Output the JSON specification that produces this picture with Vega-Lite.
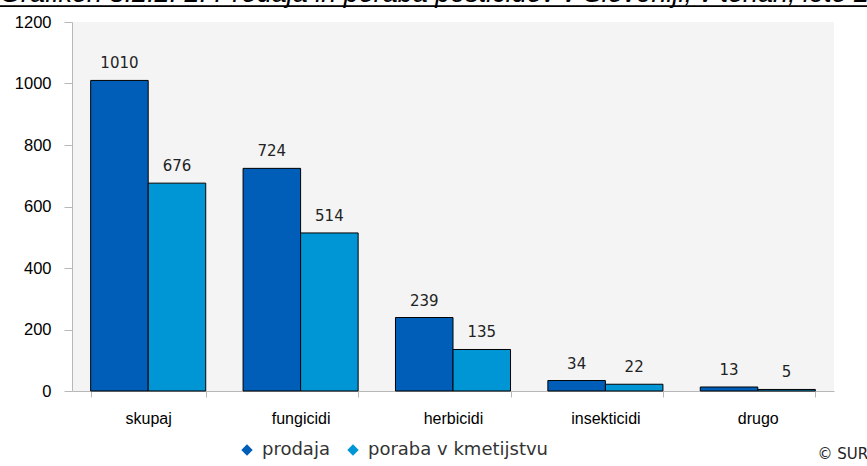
{
  "$schema": "https://vega.github.io/schema/vega-lite/v6.json",
  "autosize": {"type": "none"},
  "padding": {"left": 72, "top": 22, "right": 33, "bottom": 75},
  "width": 762,
  "height": 369,
  "background": "white",
  "title": {
    "text": "Grafikon 8.2.2: 2: Prodaja in poraba pesticidov v Sloveniji, v tonah, leto 2010",
    "subtitle": "____________________________________________________________________",
    "anchor": "start",
    "frame": "group",
    "dx": -72,
    "offset": -15,
    "limit": 3000,
    "baseline": "alphabetic",
    "font": "Liberation Sans",
    "fontSize": 27,
    "fontStyle": "italic",
    "fontWeight": "normal",
    "color": "black",
    "subtitleFont": "Liberation Sans",
    "subtitleFontSize": 26,
    "subtitleColor": "black",
    "subtitlePadding": -27
  },
  "data": {
    "values": [
      {"cat": "skupaj", "series": "prodaja", "value": 1010},
      {"cat": "skupaj", "series": "poraba v kmetijstvu", "value": 676},
      {"cat": "fungicidi", "series": "prodaja", "value": 724},
      {"cat": "fungicidi", "series": "poraba v kmetijstvu", "value": 514},
      {"cat": "herbicidi", "series": "prodaja", "value": 239},
      {"cat": "herbicidi", "series": "poraba v kmetijstvu", "value": 135},
      {"cat": "insekticidi", "series": "prodaja", "value": 34},
      {"cat": "insekticidi", "series": "poraba v kmetijstvu", "value": 22},
      {"cat": "drugo", "series": "prodaja", "value": 13},
      {"cat": "drugo", "series": "poraba v kmetijstvu", "value": 5}
    ]
  },
  "encoding": {
    "x": {
      "field": "cat",
      "type": "nominal",
      "sort": ["skupaj", "fungicidi", "herbicidi", "insekticidi", "drugo"],
      "scale": {"paddingInner": 0.245, "paddingOuter": 0.1225},
      "axis": {
        "title": "© SURS",
        "titleX": 745,
        "titleY": 67,
        "titleAlign": "left",
        "titleBaseline": "alphabetic",
        "titleFont": "DejaVu Sans",
        "titleFontSize": 15,
        "titleFontWeight": "normal",
        "titleColor": "#222",
        "labelAngle": 0,
        "labelFont": "Liberation Sans",
        "labelFontSize": 16,
        "labelColor": "black",
        "labelPadding": 13,
        "tickBand": "extent",
        "tickSize": 6,
        "tickColor": "#b8b8b8",
        "domainColor": "#b8b8b8",
        "grid": false
      }
    },
    "xOffset": {
      "field": "series",
      "type": "nominal",
      "sort": ["prodaja", "poraba v kmetijstvu"],
      "scale": {"paddingInner": 0, "paddingOuter": 0}
    },
    "y": {
      "field": "value",
      "type": "quantitative",
      "scale": {"domain": [0, 1200], "nice": false},
      "axis": {
        "title": null,
        "values": [0, 200, 400, 600, 800, 1000, 1200],
        "format": "d",
        "labelFont": "Liberation Sans",
        "labelFontSize": 16.5,
        "labelColor": "black",
        "labelPadding": 13,
        "tickSize": 8,
        "tickColor": "#b8b8b8",
        "domainColor": "#b8b8b8",
        "grid": false
      }
    }
  },
  "layer": [
    {
      "mark": {"type": "bar", "stroke": "black", "strokeWidth": 1},
      "encoding": {
        "color": {
          "field": "series",
          "type": "nominal",
          "sort": ["prodaja", "poraba v kmetijstvu"],
          "scale": {"domain": ["prodaja", "poraba v kmetijstvu"], "range": ["#005EB8", "#0096D6"]},
          "legend": {
            "title": null,
            "orient": "none",
            "legendX": 166,
            "legendY": 419,
            "direction": "horizontal",
            "symbolType": "diamond",
            "symbolSize": 130,
            "symbolStrokeWidth": 0,
            "labelFont": "DejaVu Sans",
            "labelFontSize": 18,
            "labelLimit": 0,
            "labelColor": "#333",
            "labelOffset": 6,
            "columnPadding": 14
          }
        }
      }
    },
    {
      "mark": {"type": "text", "dy": -12, "baseline": "alphabetic", "font": "DejaVu Sans", "fontSize": 15, "color": "#222"},
      "encoding": {"text": {"field": "value", "type": "quantitative"}}
    }
  ],
  "config": {
    "view": {"fill": "#f4f4f4", "stroke": null}
  }
}
